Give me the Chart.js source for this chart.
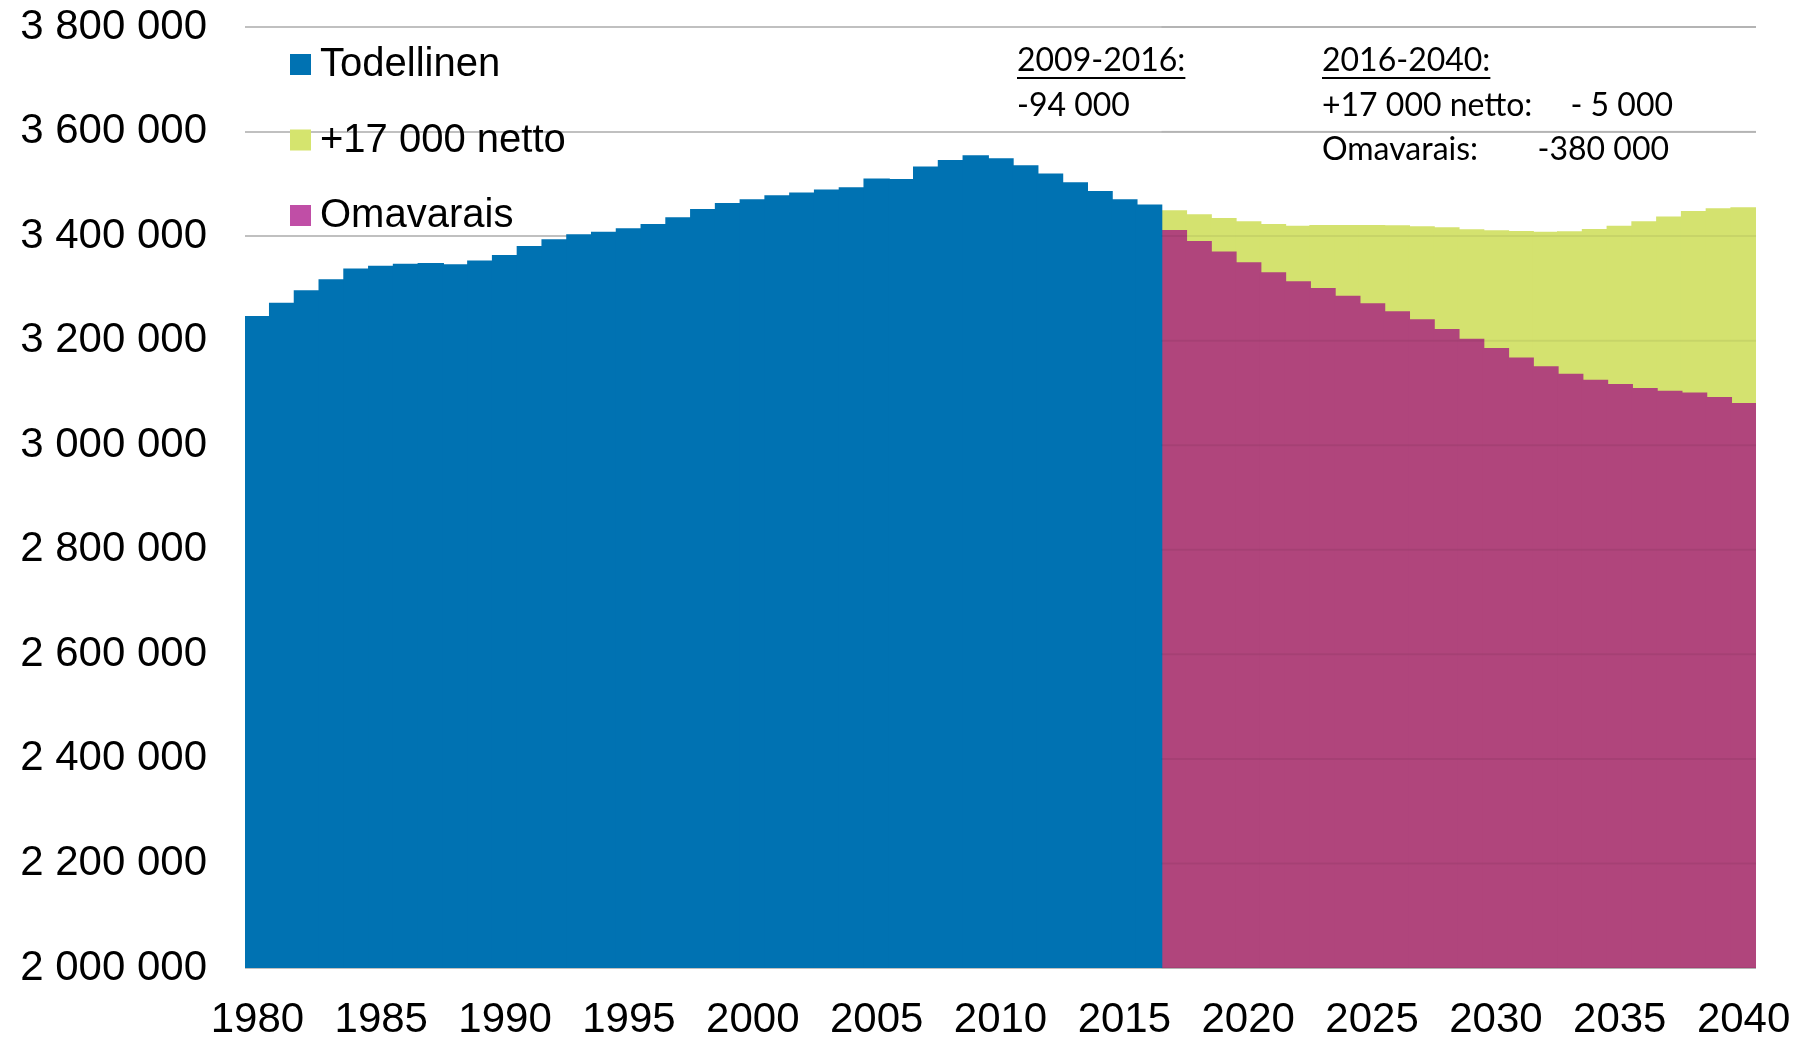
<!DOCTYPE html>
<html>
<head>
<meta charset="utf-8">
<script src="https://cdn.jsdelivr.net/npm/chart.js@4/dist/chart.umd.min.js"></script>
<style>
  html, body { margin: 0; padding: 0; background: #fff; }
  canvas { display: block; }
</style>
</head>
<body>
<canvas id="myChart" width="1803" height="1042"></canvas>
<script>
const years = [
  1980, 1981, 1982, 1983, 1984, 1985, 1986, 1987, 1988, 1989,
  1990, 1991, 1992, 1993, 1994, 1995, 1996, 1997, 1998, 1999,
  2000, 2001, 2002, 2003, 2004, 2005, 2006, 2007, 2008, 2009,
  2010, 2011, 2012, 2013, 2014, 2015, 2016, 2017, 2018, 2019,
  2020, 2021, 2022, 2023, 2024, 2025, 2026, 2027, 2028, 2029,
  2030, 2031, 2032, 2033, 2034, 2035, 2036, 2037, 2038, 2039,
  2040,
];

// 1980-2016
const todellinen = [
  3245600, 3271200, 3294700, 3315800, 3336300, 3342000, 3345800, 3347000, 3344500, 3351600,
  3362300, 3379500, 3392400, 3401900, 3407000, 3413400, 3421600, 3434400, 3450300, 3461800,
  3468900, 3476600, 3481700, 3487500, 3491900, 3508500, 3507800, 3531500, 3544200, 3553100,
  3547400, 3534000, 3518100, 3501400, 3484800, 3468900, 3458800,
];

// 2017-2040
const netto = [
  3447800, 3440200, 3433100, 3426800, 3421600, 3418500, 3419800, 3419800, 3419800, 3419100,
  3417200, 3415300, 3411500, 3409600, 3408300, 3407000, 3407600, 3412100, 3418500, 3426800,
  3435800, 3446500, 3451700, 3453600,
];

const omavarais = [
  3410200, 3389100, 3368800, 3348300, 3329200, 3312000, 3299200, 3284600, 3269900, 3254600,
  3239200, 3220700, 3202300, 3184300, 3166500, 3149300, 3135300, 3123800, 3115400, 3107800,
  3102800, 3099500, 3090500, 3079000,
];

const yTicks = [2000000, 2200000, 2400000, 2600000, 2800000, 3000000, 3200000, 3400000, 3600000, 3800000];

const nHist = todellinen.length;

const fmt = (v) => String(v).replace(/\B(?=(\d{3})+(?!\d))/g, " ");

// legend, text boxes and the faint grid seen through the projection bars
const overlay = {
  id: "overlay",
  afterDatasetsDraw(chart) {
    const ctx = chart.ctx;
    const xs = chart.scales.x;
    const ys = chart.scales.y;
    const step = xs.getPixelForValue(1) - xs.getPixelForValue(0);
    const x0 = xs.getPixelForValue(nHist) - step / 2;
    ctx.save();
    ctx.strokeStyle = "rgba(0,0,0,0.06)";
    ctx.lineWidth = 2;
    yTicks.forEach((v) => {
      const y = ys.getPixelForValue(v);
      ctx.beginPath();
      ctx.moveTo(x0, y);
      ctx.lineTo(chart.chartArea.right, y);
      ctx.stroke();
    });
    ctx.restore();
  },
  afterDraw(chart) {
    const ctx = chart.ctx;
    ctx.save();
    const items = [
      { label: "Todellinen", color: "rgb(0,114,178)" },
      { label: "+17 000 netto", color: "rgb(213,228,110)" },
      { label: "Omavarais", color: "rgb(192,78,166)" },
    ];
    ctx.font = "40px 'Liberation Sans', Arial, sans-serif";
    ctx.textBaseline = "alphabetic";
    ctx.textAlign = "left";
    items.forEach((it, i) => {
      const top = 54 + i * 75.5;
      ctx.fillStyle = it.color;
      ctx.fillRect(290, top, 21, 21);
      ctx.fillStyle = "#000";
      ctx.fillText(it.label, 320, top + 22);
    });

    ctx.font = "32px Lato, 'Noto Sans', sans-serif";
    ctx.fillStyle = "#000";
    ctx.strokeStyle = "#000";
    ctx.lineWidth = 2;
    const under = (txt, x, y) => {
      ctx.fillText(txt, x, y);
      const w = ctx.measureText(txt).width;
      ctx.beginPath();
      ctx.moveTo(x, y + 7);
      ctx.lineTo(x + w, y + 7);
      ctx.stroke();
    };
    under("2009-2016:", 1017, 71);
    ctx.fillText("-94 000", 1017, 116);
    under("2016-2040:", 1322, 71);
    ctx.fillText("+17 000 netto:", 1322, 116);
    ctx.fillText("Omavarais:", 1322, 160);
    ctx.textAlign = "right";
    ctx.fillText("- 5 000", 1673, 116);
    ctx.fillText("-380 000", 1669, 160);
    ctx.restore();
  },
};

const config = {
  type: "bar",
  data: {
    labels: years,
    datasets: [
      {
        label: "Todellinen",
        data: years.map((y, i) => (i < nHist ? todellinen[i] : null)),
        backgroundColor: "rgb(0,114,178)",
      },
      {
        label: "Omavarais",
        data: years.map((y, i) => (i < nHist ? null : omavarais[i - nHist])),
        backgroundColor: "rgb(176,69,124)",
      },
      {
        label: "+17 000 netto",
        data: years.map((y, i) => (i < nHist ? null : netto[i - nHist])),
        backgroundColor: "rgb(212,226,111)",
      },
    ],
  },
  options: {
    responsive: false,
    animation: false,
    devicePixelRatio: 1,
    layout: { padding: { top: 27, right: 47, bottom: 0, left: 0 } },
    plugins: { legend: { display: false }, tooltip: { enabled: false } },
    datasets: {
      bar: {
        barPercentage: 1,
        categoryPercentage: 1,
        borderWidth: 0,
        inflateAmount: 0.8,
        grouped: false,
      },
    },
    scales: {
      x: {
        stacked: true,
        grid: { display: false },
        border: { display: false },
        ticks: {
          autoSkip: false,
          maxRotation: 0,
          padding: 19,
          color: "#000",
          font: { family: "'Liberation Sans', Arial, sans-serif", size: 42 },
          callback: (v, i) => (years[i] % 5 === 0 ? String(years[i]) : ""),
        },
        afterFit: (s) => {
          s.height = 74;
          s.paddingLeft = 0;
          s.paddingRight = 0;
        },
      },
      y: {
        min: 2000000,
        max: 3800000,
        afterBuildTicks: (s) => { s.ticks = yTicks.map((v) => ({ value: v })); },
        grid: { color: "rgb(192,192,192)", lineWidth: 2, drawTicks: false },
        border: { display: false },
        ticks: {
          padding: 38,
          color: "#000",
          font: { family: "'Liberation Sans', Arial, sans-serif", size: 42 },
          callback: (v) => fmt(v),
        },
        afterFit: (s) => {
          s.width = 245;
          s.paddingTop = 0;
          s.paddingBottom = 0;
        },
      },
    },
  },
  plugins: [overlay],
};

var myChart = new Chart(document.getElementById("myChart"), config);
</script>
</body>
</html>
